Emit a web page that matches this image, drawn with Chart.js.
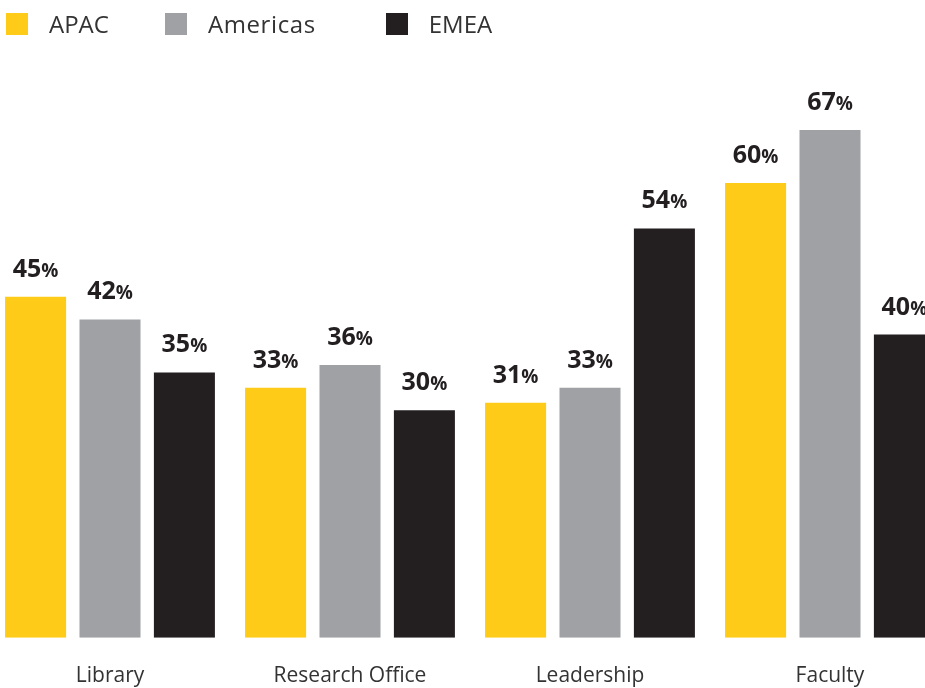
<!DOCTYPE html>
<html lang="en">

<head>
    <meta charset="UTF-8">
    <title>Regional survey</title>
    <script src="https://cdn.jsdelivr.net/npm/chart.js"></script>
    <style>
        html, body { margin: 0; padding: 0; background: #fff; overflow: hidden; }
        .frame { position: relative; width: 925px; height: 688px; overflow: hidden; }
        /* o canvas passa um pouco das bordas, as barras ficam coladas nos lados */
        #graficoRegioes { position: absolute; left: -10px; top: 0; }
        .legenda { position: absolute; left: 6px; top: 7px; display: flex; font-family: "Open Sans", sans-serif; font-size: 24px; color: #333; }
        .legenda span.item { display: flex; align-items: center; margin-right: 56px; }
        .legenda span.item:nth-child(2) { margin-right: 70px; letter-spacing: 0.6px; }
        .legenda span.box { width: 22px; height: 22px; margin-right: 21px; }
    </style>
</head>

<body>
    <div class="frame">
        <canvas id="graficoRegioes" width="960" height="715"></canvas>
        <div class="legenda" id="legendaBox"></div>
    </div>

<script>
    // categorias e valores (%) por região
    const categorias = ['Library', 'Research Office', 'Leadership', 'Faculty'];
    const apac = [45, 33, 31, 60];
    const americas = [42, 36, 33, 67];
    const emea = [35, 30, 54, 40];

    const corAmarelo = '#FDCB18';
    const corCinza = '#A0A1A4';
    const corPreto = '#231F20';

    // escreve o valor em negrito com o "%" menor em cima de cada barra
    const rotulosBarras = {
        id: 'rotulosBarras',
        afterDatasetsDraw(chart) {
            const ctx = chart.ctx;
            ctx.save();
            ctx.fillStyle = corPreto;
            ctx.textBaseline = 'alphabetic';
            chart.data.datasets.forEach((ds, i) => {
                chart.getDatasetMeta(i).data.forEach((barra, j) => {
                    const num = String(ds.data[j]);
                    ctx.font = 'bold 25px "Open Sans"';
                    const wNum = ctx.measureText(num).width;
                    ctx.font = 'bold 19px "Open Sans"';
                    const wPct = ctx.measureText('%').width;
                    const x0 = barra.x - (wNum + wPct) / 2;
                    const y0 = barra.y - 20;
                    ctx.font = 'bold 25px "Open Sans"';
                    ctx.fillText(num, x0, y0);
                    ctx.font = 'bold 19px "Open Sans"';
                    ctx.fillText('%', x0 + wNum, y0);
                });
            });
            ctx.restore();
        }
    };

    const grafico = new Chart(document.getElementById('graficoRegioes'), {
        type: 'bar',
        data: {
            labels: categorias,
            datasets: [
                { label: 'APAC', data: apac, backgroundColor: corAmarelo },
                { label: 'Americas', data: americas, backgroundColor: corCinza },
                { label: 'EMEA', data: emea, backgroundColor: corPreto }
            ]
        },
        options: {
            responsive: false,
            animation: false,
            categoryPercentage: 0.93,
            barPercentage: 0.82,
            layout: {
                padding: { left: 0, right: 0, top: 1, bottom: 0 }
            },
            plugins: {
                legend: { display: false },
                tooltip: { enabled: false }
            },
            scales: {
                x: {
                    grid: { display: false, drawTicks: false },
                    border: { display: false },
                    ticks: {
                        color: '#333',
                        padding: 26,
                        font: { family: 'Open Sans', size: 21 }
                    }
                },
                y: {
                    display: false,
                    min: 0,
                    max: 84
                }
            }
        },
        plugins: [rotulosBarras]
    });

    // legenda montada a partir dos datasets
    const legendaHTML = document.getElementById('legendaBox');
    grafico.data.datasets.forEach(ds => {
        legendaHTML.innerHTML += `<span class="item"><span class="box" style="background:${ds.backgroundColor}"></span>${ds.label}</span>`;
    });
</script>
</body>

</html>
